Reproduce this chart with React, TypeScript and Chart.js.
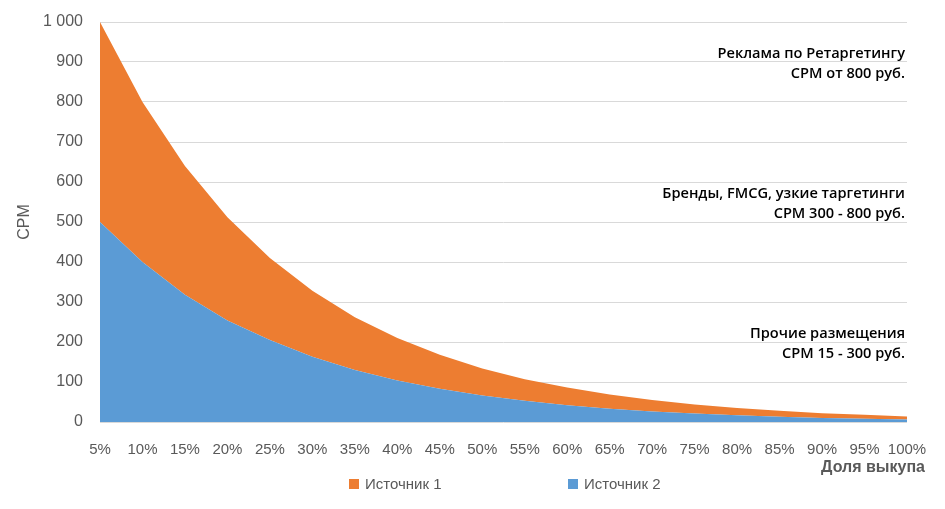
import React, { useEffect, useRef } from "react";
import { Chart, registerables } from "chart.js";

Chart.register(...registerables);

const categories = ["5%", "10%", "15%", "20%", "25%", "30%", "35%", "40%", "45%", "50%", "55%", "60%", "65%", "70%", "75%", "80%", "85%", "90%", "95%", "100%"];
const source2 = [500, 400, 318, 254, 205, 163, 130, 104, 83, 66, 53, 42, 33, 26, 21, 17, 13, 10, 8, 6];
const source1 = [500, 400, 322, 258, 205, 165, 132, 106, 85, 68, 54, 44, 36, 29, 23, 18, 15, 12, 10, 8];
const yTicks = [0, 100, 200, 300, 400, 500, 600, 700, 800, 900, 1000];
const seriesNames = ["Источник 1", "Источник 2"];
const annotations = [
  { value: 1000, lines: ["Реклама по Ретаргетингу", "CPM от 800 руб."] },
  { value: 650, lines: ["Бренды, FMCG, узкие таргетинги", "CPM 300 - 800 руб."] },
  { value: 300, lines: ["Прочие размещения", "CPM 15 - 300 руб."] },
];

const ORANGE = "#ED7D31";
const BLUE = "#5B9BD5";
const GRAY = "#595959";

const overlay = {
  id: "overlay",
  afterDraw(chart: any) {
    const ctx = chart.ctx;
    const area = chart.chartArea;
    const y = chart.scales.y;
    ctx.save();
    // annotations
    ctx.fillStyle = "#000";
    ctx.font = "600 14.6px 'Open Sans', sans-serif";
    ctx.textAlign = "right";
    ctx.textBaseline = "middle";
    annotations.forEach((a) => {
      const base = y.getPixelForValue(a.value) + 31.5;
      ctx.fillText(a.lines[0], area.right - 2, base);
      ctx.fillText(a.lines[1], area.right - 2, base + 20.5);
    });
    // y title
    ctx.fillStyle = GRAY;
    ctx.font = "16px 'Liberation Sans', Arial, sans-serif";
    ctx.save();
    ctx.translate(25, (area.top + area.bottom) / 2);
    ctx.rotate(-Math.PI / 2);
    ctx.textAlign = "center";
    ctx.fillText("CPM", 0, 0);
    ctx.restore();
    // x title
    ctx.font = "bold 16px 'Liberation Sans', Arial, sans-serif";
    ctx.textAlign = "right";
    ctx.fillText("Доля выкупа", 925, 468);
    // legend
    ctx.font = "15px 'Liberation Sans', Arial, sans-serif";
    ctx.textAlign = "left";
    const items = [
      { x: 349, color: ORANGE, label: seriesNames[0] },
      { x: 568, color: BLUE, label: seriesNames[1] },
    ];
    items.forEach((it) => {
      ctx.fillStyle = it.color;
      ctx.fillRect(it.x, 479, 10, 10);
      ctx.fillStyle = GRAY;
      ctx.fillText(it.label, it.x + 16, 485);
    });
    ctx.restore();
  },
};

export default function App() {
  const ref = useRef<HTMLCanvasElement>(null);
  useEffect(() => {
    document.body.style.margin = "0";
    const chart = new Chart(ref.current!, {
      type: "line",
      data: {
        labels: categories,
        datasets: [
          {
            label: seriesNames[1],
            data: source2,
            backgroundColor: BLUE,
            borderColor: BLUE,
            borderWidth: 0,
            pointRadius: 0,
            fill: "origin",
            tension: 0,
          },
          {
            label: seriesNames[0],
            data: source1,
            backgroundColor: ORANGE,
            borderColor: ORANGE,
            borderWidth: 0,
            pointRadius: 0,
            fill: "-1",
            tension: 0,
          },
        ],
      },
      options: {
        responsive: false,
        animation: false,
        layout: { padding: { top: 22, right: 38, left: 0, bottom: 0 } },
        plugins: { legend: { display: false }, tooltip: { enabled: false } },
        scales: {
          x: {
            offset: false,
            grid: { display: false },
            border: { display: false },
            ticks: {
              color: GRAY,
              font: { family: "'Liberation Sans', Arial, sans-serif", size: 15 },
              padding: 11,
              maxRotation: 0,
              autoSkip: false,
            },
            afterFit: (s: any) => {
              s.height = 87;
              s.paddingLeft = 0;
              s.paddingRight = 0;
            },
          },
          y: {
            stacked: true,
            min: 0,
            max: 1000,
            afterBuildTicks: (s: any) => {
              s.ticks = yTicks.map((v) => ({ value: v }));
            },
            grid: { color: "#D9D9D9", drawTicks: false },
            border: { display: false },
            ticks: {
              color: GRAY,
              font: { family: "'Liberation Sans', Arial, sans-serif", size: 16 },
              padding: 17,
              callback: (v: any) => (v >= 1000 ? "1 000" : String(v)),
            },
            afterFit: (s: any) => {
              s.width = 100;
              s.paddingTop = 0;
              s.paddingBottom = 0;
            },
          },
        },
      },
      plugins: [overlay],
    });
    return () => chart.destroy();
  }, []);
  return (
    <div style={{ position: "absolute", left: 0, top: 0, width: 945, height: 509 }}>
      <canvas ref={ref} width={945} height={509} style={{ width: 945, height: 509 }} />
    </div>
  );
}
